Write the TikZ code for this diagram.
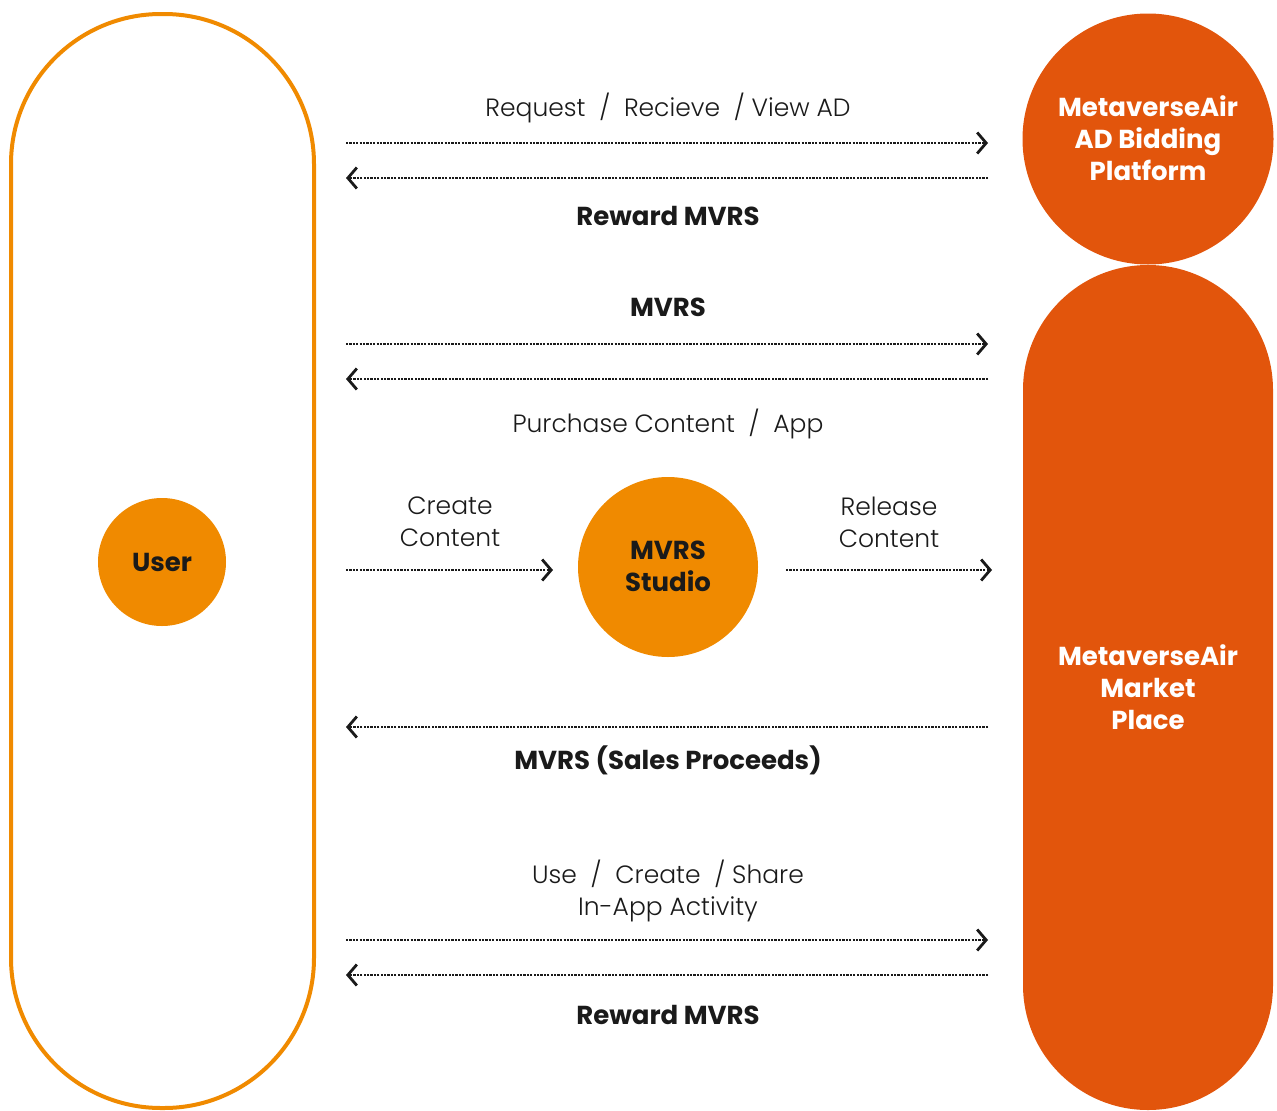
\documentclass[tikz,border=0pt]{standalone}
\usepackage{fontspec}
\setmainfont{Poppins}[UprightFont=* Light, BoldFont=* Bold]
\usetikzlibrary{arrows.meta}
\definecolor{lorange}{HTML}{F08A00}
\definecolor{dorange}{HTML}{E2550C}
\definecolor{ink}{HTML}{1A1A1A}
\tikzset{
  flow/.style={draw=ink, line width=2.4pt, dash pattern=on 2.2pt off 1.2pt,
    -{Straight Barb[length=9pt,width=21pt,line width=2.8pt,sep=0pt]}},
  lbl/.style={text=ink, font=\fontsize{25}{32}\selectfont, align=center, inner sep=0pt},
  blbl/.style={text=ink, font=\fontsize{26}{32}\selectfont\bfseries, align=center, inner sep=0pt},
  wlbl/.style={text=white, font=\fontsize{26}{32}\selectfont\bfseries, align=center, inner sep=0pt},
}
\begin{document}
\begin{tikzpicture}[x=1pt,y=-1pt]
\useasboundingbox (0,0) rectangle (1277,1111);
% user pill
\draw[lorange, line width=4pt, rounded corners=150pt] (11,14) rectangle (314,1108);
\node[circle, fill=lorange, minimum size=128pt, inner sep=0pt] (user) at (162,562) {};
\node[blbl] at (user) {User};
% ad bidding
\node[circle, fill=dorange, minimum size=251pt, inner sep=0pt] (ad) at (1148,139) {};
\node[wlbl] at (1148,138) {MetaverseAir\\AD Bidding\\Platform};
% market place
\fill[dorange, rounded corners=124.9pt] (1023,265) rectangle (1273,1110);
\node[inner sep=0pt] (mp) at (1148,687) {};
\node[wlbl] at (mp) {MetaverseAir\\Market\\Place};
% studio
\node[circle, fill=lorange, minimum size=180pt, inner sep=0pt] (studio) at (668,567) {};
\node[blbl] at (668,566) {MVRS\\Studio};
% arrow end coordinates
\coordinate (l1) at (346,143); \coordinate (r1) at (988,143);
\coordinate (l2) at (346,178); \coordinate (r2) at (988,178);
\coordinate (l3) at (346,344); \coordinate (r3) at (988,344);
\coordinate (l4) at (346,379); \coordinate (r4) at (988,379);
\coordinate (l5) at (346,570); \coordinate (r5) at (553,570);
\coordinate (l6) at (786,570); \coordinate (r6) at (992,570);
\coordinate (l7) at (346,727); \coordinate (r7) at (988,727);
\coordinate (l8) at (346,940); \coordinate (r8) at (988,940);
\coordinate (l9) at (346,975); \coordinate (r9) at (988,975);
\draw[flow] (l1) -- (r1);
\draw[flow] (r2) -- (l2);
\draw[flow] (l3) -- (r3);
\draw[flow] (r4) -- (l4);
\draw[flow] (l5) -- (r5);
\draw[flow] (l6) -- (r6);
\draw[flow] (r7) -- (l7);
\draw[flow] (l8) -- (r8);
\draw[flow] (r9) -- (l9);
% labels
\node[lbl] at (668,108) {Request\ \ /\ \ Recieve\ \ / View AD};
\node[blbl] at (668,216) {Reward MVRS};
\node[blbl] at (668,307) {MVRS};
\node[lbl] at (668,424) {Purchase Content\ \ /\ \ App};
\node[lbl] at (450,522) {Create\\Content};
\node[lbl] at (889,522) {Release\\Content};
\node[blbl] at (668,760) {MVRS (Sales Proceeds)};
\node[lbl] at (668,891) {Use\ \ /\ \ Create\ \ / Share\\In-App Activity};
\node[blbl] at (668,1015) {Reward MVRS};
\end{tikzpicture}
\end{document}
